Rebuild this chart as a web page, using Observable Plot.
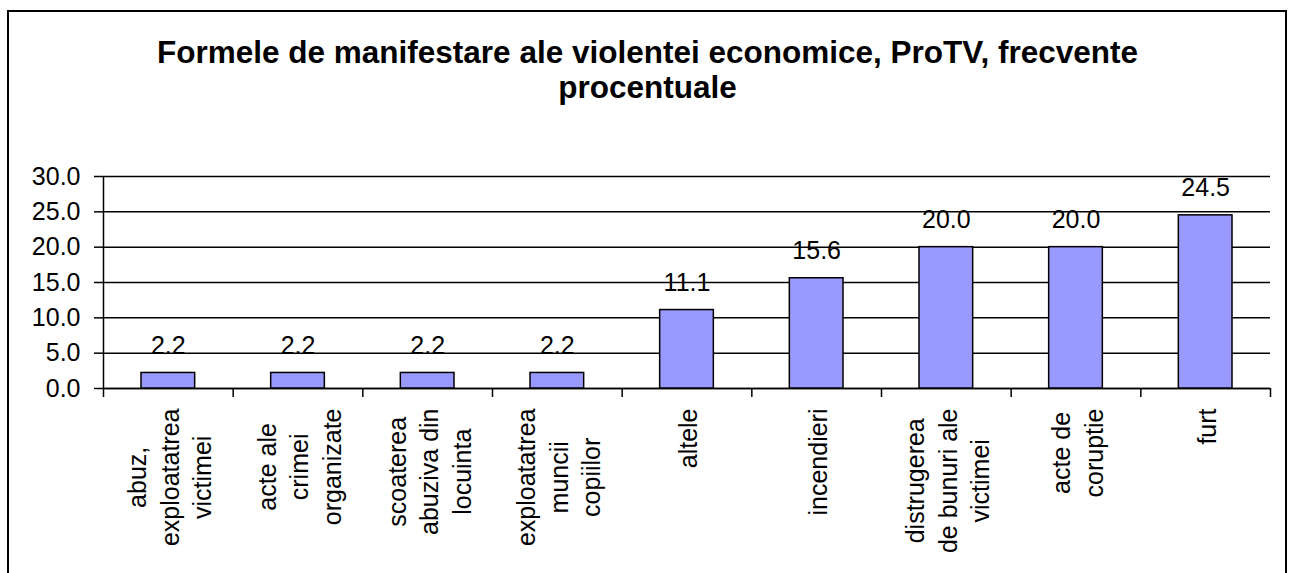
<!DOCTYPE html>
<html><head><meta charset="utf-8">
<script src="https://cdn.jsdelivr.net/npm/d3@7"></script>
<script src="https://cdn.jsdelivr.net/npm/@observablehq/plot@0.6"></script>
<style>
html,body{margin:0;padding:0;background:#fff;width:1295px;height:573px;overflow:hidden;font-family:"Liberation Sans",Arial,sans-serif;}
#frame{position:absolute;left:7px;top:10px;width:1280px;height:700px;border:2px solid #000;box-sizing:border-box;}
#title{position:absolute;left:0;top:35px;width:1295px;text-align:center;font-weight:bold;font-size:31.5px;line-height:35px;color:#000;white-space:nowrap;}
#chart{position:absolute;left:0;top:150px;}
</style></head><body>
<div id="frame"></div>
<div id="title">Formele de manifestare ale violentei economice, ProTV, frecvente<br>procentuale</div>
<div id="chart"></div>
<script>
const categories = [
  "abuz,\nexploatatrea\nvictimei",
  "acte ale\ncrimei\norganizate",
  "scoaterea\nabuziva din\nlocuinta",
  "exploatatrea\nmuncii\ncopiilor",
  "altele",
  "incendieri",
  "distrugerea\nde bunuri ale\nvictimei",
  "acte de\ncoruptie",
  "furt"
];
const values = [2.2, 2.2, 2.2, 2.2, 11.1, 15.6, 20.0, 20.0, 24.5];
const yTicks = [0, 5, 10, 15, 20, 25, 30];

const data = categories.map((c, i) => ({i, category: c, value: values[i]}));

const FS = 25;
const ctx = document.createElement("canvas").getContext("2d");
ctx.font = FS + "px 'Liberation Sans'";
const maxW = s => Math.max(...s.split("\n").map(l => ctx.measureText(l).width));

const labelMarks = data.map(d => Plot.text([d], {
  x: r => r.i + 0.5,
  text: r => r.category,
  frameAnchor: "bottom",
  rotate: -90,
  textAnchor: "middle",
  lineAnchor: "middle",
  lineHeight: 1.3,
  fontSize: FS,
  fill: "#000",
  dy: 20 + maxW(d.category) / 2
}));

const chart = Plot.plot({
  width: 1295,
  height: 423,
  marginTop: 26,
  marginBottom: 185,
  marginLeft: 103,
  marginRight: 25,
  style: {fontFamily: "'Liberation Sans', Arial, sans-serif", fontSize: FS + "px", color: "#000", background: "transparent", overflow: "visible"},
  x: {domain: [0, categories.length]},
  y: {domain: [0, 30]},
  marks: [
    Plot.gridY(yTicks, {stroke: "#000", strokeOpacity: 1, strokeWidth: 1.5}),
    Plot.axisY({ticks: yTicks, tickFormat: d => d.toFixed(1), tickSize: 9, tickPadding: 14, strokeWidth: 1.5, label: null, fontSize: FS}),
    Plot.axisX({ticks: d3.range(categories.length + 1), tickSize: 9, tickFormat: () => "", strokeWidth: 1.5, label: null}),
    Plot.ruleX([0], {stroke: "#000", strokeWidth: 1.5}),
    Plot.ruleY([0], {stroke: "#000", strokeWidth: 1.5}),
    Plot.rectY(data, {x1: d => d.i, x2: d => d.i + 1, y: "value", insetLeft: 38, insetRight: 38, fill: "#9999FF", stroke: "#000", strokeWidth: 1.5}),
    Plot.text(data, {x: d => d.i + 0.5, y: "value", text: d => d.value.toFixed(1), dy: -19, lineAnchor: "bottom", fontSize: FS, fill: "#000"}),
    ...labelMarks
  ]
});
document.getElementById("chart").appendChild(chart);
</script>
</body></html>
